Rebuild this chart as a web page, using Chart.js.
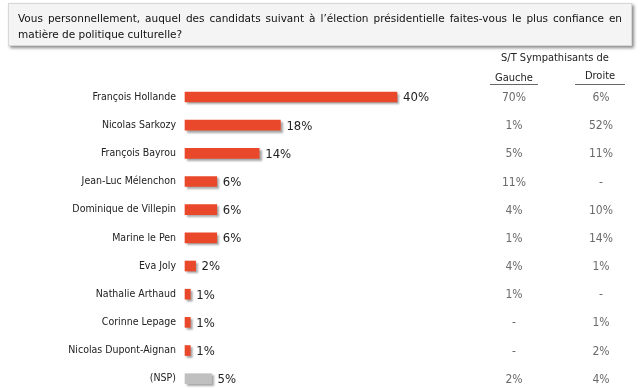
<!DOCTYPE html>
<html>
<head>
<meta charset="utf-8">
<script src="https://cdn.jsdelivr.net/npm/chart.js@4/dist/chart.umd.min.js"></script>
<style>
    html, body { margin: 0; padding: 0; background: #fff; overflow: hidden; }
    #wrap { position: relative; width: 640px; height: 388px; overflow: hidden; }
    #title {
        position: absolute; left: 8px; top: 3px; width: 604px; height: 33px;
        padding: 6px 9px 2px 9px; background: #f4f4f4; border: 1px solid #d8d8d8;
        box-shadow: 2px 2px 3px #8a8a8a;
        font: 10.5px "DejaVu Sans", sans-serif; color: #111;
        text-align: justify; line-height: 16px;
    }
    canvas { position: absolute; left: 0; top: 0; }
</style>
</head>
<body>
<div id="wrap">
    <canvas id="chart" width="640" height="394"></canvas>
    <div id="title">Vous personnellement, auquel des candidats suivant à l’élection présidentielle faites-vous le plus confiance en matière de politique culturelle?</div>
</div>
<script>
// Chart data
const candidates = ['François Hollande', 'Nicolas Sarkozy', 'François Bayrou', 'Jean-Luc Mélenchon',
    'Dominique de Villepin', 'Marine le Pen', 'Eva Joly', 'Nathalie Arthaud', 'Corinne Lepage',
    'Nicolas Dupont-Aignan', '(NSP)'];
const totals = [40, 18, 14, 6, 6, 6, 2, 1, 1, 1, 5];
const gauche = ['70%', '1%', '5%', '11%', '4%', '1%', '4%', '1%', '-', '-', '2%'];
const droite = ['6%', '52%', '11%', '-', '10%', '14%', '1%', '-', '1%', '2%', '4%'];

const FONT = '"DejaVu Sans Condensed", "DejaVu Sans", sans-serif';
const barColors = candidates.map(c => c === '(NSP)' ? '#c0c0c0' : '#e9492a');

// Value labels after bars + the two sympathisant columns
const sidePlugin = {
    id: 'side',
    afterDatasetsDraw(chart) {
        const ctx = chart.ctx;
        const meta = chart.getDatasetMeta(0);
        const yScale = chart.scales.y;
        ctx.save();
        ctx.textBaseline = 'middle';
        ctx.fillStyle = '#222';
        ctx.font = '13px ' + FONT;
        ctx.textAlign = 'left';
        meta.data.forEach((bar, i) => {
            ctx.fillText(totals[i] + '%', bar.x + 6, bar.y + 1);
        });

        // Column headers
        ctx.fillStyle = '#222';
        ctx.font = '11px ' + FONT;
        ctx.textAlign = 'center';
        ctx.fillText('S/T Sympathisants de', 555, 58);
        ctx.fillText('Gauche', 514, 78);
        ctx.fillText('Droite', 600, 76);
        ctx.strokeStyle = '#666';
        ctx.lineWidth = 1;
        ctx.beginPath();
        ctx.moveTo(490, 84.5); ctx.lineTo(538, 84.5);
        ctx.moveTo(575, 84.5); ctx.lineTo(625, 84.5);
        ctx.stroke();

        ctx.fillStyle = '#6a6a6a';
        ctx.font = '12px ' + FONT;
        candidates.forEach((c, i) => {
            const y = yScale.getPixelForValue(i) + 1;
            ctx.fillText(gauche[i], 514, y);
            ctx.fillText(droite[i], 601, y);
        });
        ctx.restore();
    }
};

// Soft shadow under bars
const shadowPlugin = {
    id: 'barShadow',
    beforeDatasetsDraw(chart) {
        const ctx = chart.ctx;
        ctx.save();
        ctx.shadowColor = 'rgba(0,0,0,0.35)';
        ctx.shadowOffsetX = 2;
        ctx.shadowOffsetY = 2;
        ctx.shadowBlur = 2;
    },
    afterDatasetsDraw(chart) {
        chart.ctx.restore();
    }
};

new Chart(document.getElementById('chart'), {
    type: 'bar',
    data: {
        labels: candidates,
        datasets: [{
            data: totals,
            backgroundColor: barColors,
            barThickness: 10,
            clip: false
        }]
    },
    options: {
        indexAxis: 'y',
        responsive: false,
        animation: false,
        layout: { padding: { top: 97, bottom: 5, left: 0, right: 137 } },
        plugins: {
            legend: { display: false },
            tooltip: { enabled: false }
        },
        scales: {
            x: {
                min: 0,
                max: 60,
                display: false
            },
            y: {
                offset: false,
                grid: { display: false, drawTicks: false },
                border: { display: false },
                ticks: {
                    color: '#222',
                    font: { family: FONT, size: 10.5 },
                    padding: 9
                },
                afterFit(scale) { scale.width = 185; }
            }
        }
    },
    plugins: [shadowPlugin, sidePlugin]
});
</script>
</body>
</html>
